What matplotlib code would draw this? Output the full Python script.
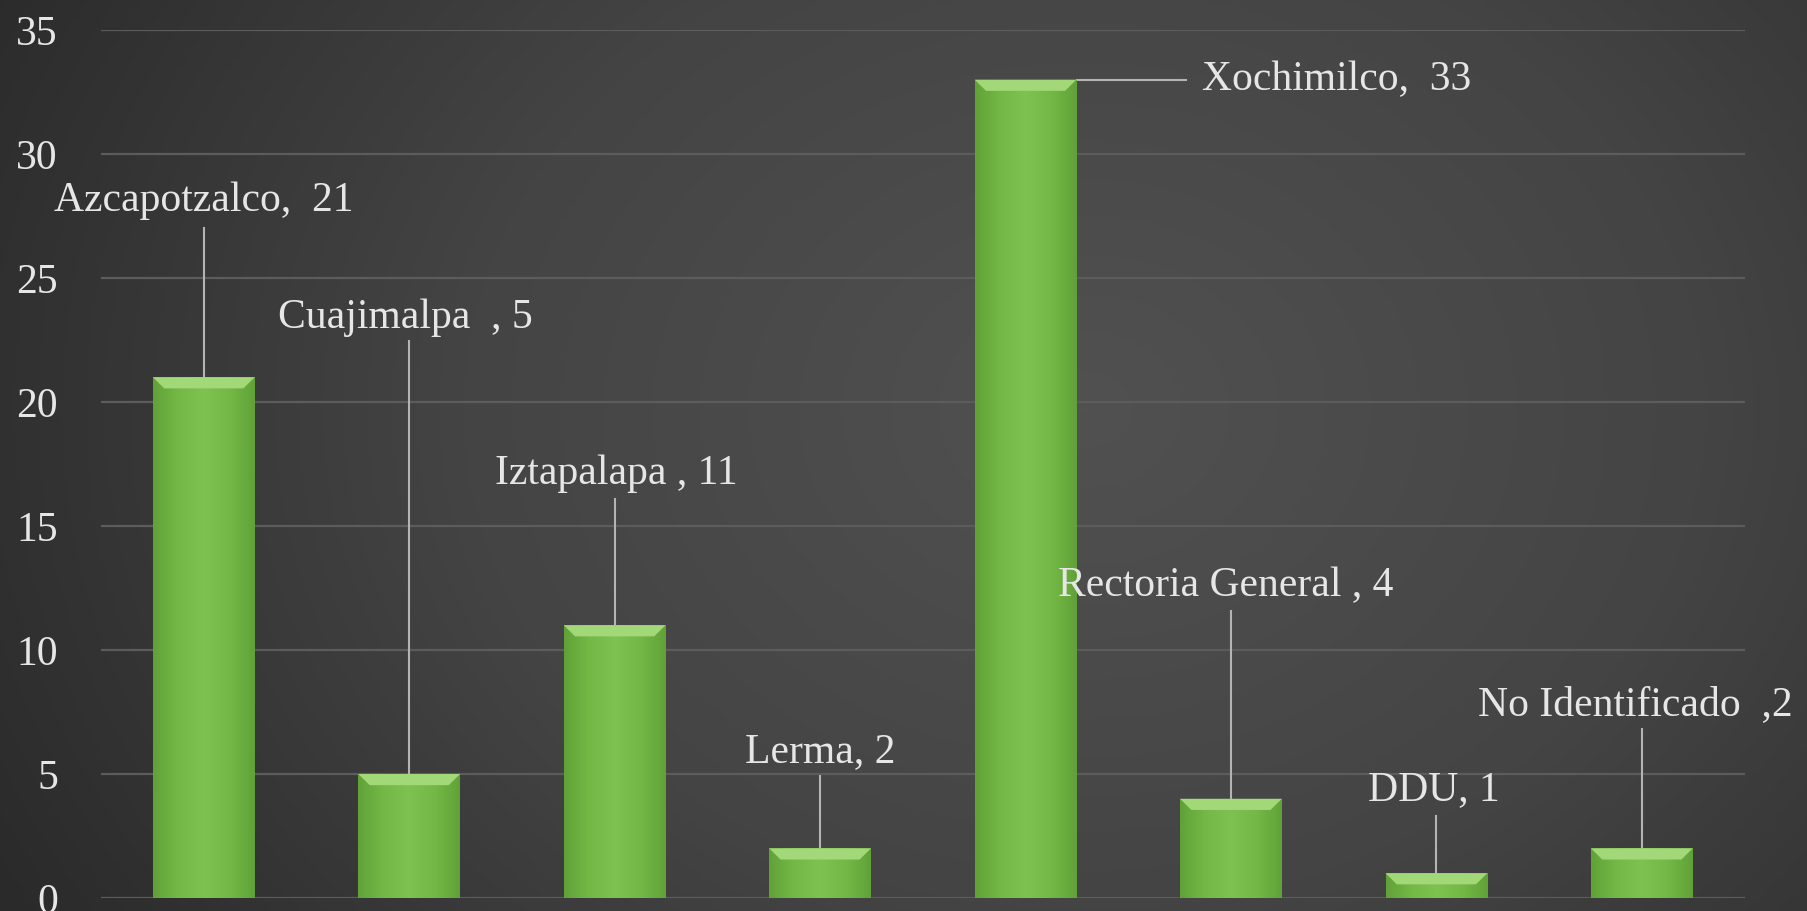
import matplotlib
matplotlib.use('Agg')

import matplotlib.pyplot as plt
import numpy as np
from matplotlib.patches import Polygon
from matplotlib.colors import LinearSegmentedColormap

# data
categories = ['Azcapotzalco', 'Cuajimalpa', 'Iztapalapa', 'Lerma',
              'Xochimilco', 'Rectoria General', 'DDU', 'No Identificado']
values = [21, 5, 11, 2, 33, 4, 1, 2]
label_texts = ['Azcapotzalco,  21', 'Cuajimalpa  , 5', 'Iztapalapa , 11',
               'Lerma, 2', 'Xochimilco,  33', 'Rectoria General , 4',
               'DDU, 1', 'No Identificado  ,2']
# where each data label sits (x in category units, y in value units)
label_x = [0.0, 0.98, 2.01, 3.0, 4.86, 4.975, 5.99, 6.97]
label_y = [28.1, 23.4, 17.1, 5.9, 33.0, 12.6, 4.35, 7.8]
leader_top = [27.0, 22.45, 16.1, 4.9, None, 11.57, 3.3, 6.8]
yticks = [0, 5, 10, 15, 20, 25, 30, 35]

FONT = 'Liberation Serif'
TEXT_COLOR = '#e6e6e6'
FS = 30

fig = plt.figure(figsize=(18.08, 9.11), dpi=100)

# dark radial background
bg = fig.add_axes([0, 0, 1, 1], zorder=-10)
yy, xx = np.mgrid[0:1:300j, 0:1:600j]
r = np.sqrt(((xx - 0.6) * 1.6) ** 2 + (yy - 0.45) ** 2)
bg_cmap = LinearSegmentedColormap.from_list('bg', ['#515151', '#444444', '#2a2a2a'])
bg.imshow(r, cmap=bg_cmap, aspect='auto', extent=(0, 1, 0, 1), vmin=0, vmax=1.1,
          origin='upper')
bg.axis('off')

ax = fig.add_axes([0.0559, 0.0143, 0.909, 0.9527])
ax.patch.set_alpha(0)

for y in yticks:
    ax.axhline(y, color='#5c5c5c', lw=1.6, zorder=0)

x = np.arange(len(categories))
bars = ax.bar(x, values, width=0.495, color='#6fb442', zorder=2)

# horizontal shading inside each bar, plus a light bevel at the top
shade = LinearSegmentedColormap.from_list(
    'shade', ['#61a238', '#74b947', '#7ec351', '#74b947', '#61a238'])
grad = np.linspace(0, 1, 100).reshape(1, -1)
dx, dy = 0.055, 0.45
for b in bars:
    x0, w, h = b.get_x(), b.get_width(), b.get_height()
    im = ax.imshow(grad, cmap=shade, aspect='auto', extent=(x0, x0 + w, 0, h),
                   zorder=2.1)
    im.set_clip_path(b)
    bevel = Polygon([(x0, h), (x0 + w, h), (x0 + w - dx, h - dy), (x0 + dx, h - dy)],
                    closed=True, facecolor='#a3d879', edgecolor='none', zorder=2.2)
    ax.add_patch(bevel)
ax.set_xlim(-0.5, len(categories) - 0.5)
ax.set_ylim(0, 35)

# data labels with leader lines
for i, (txt, lx, ly) in enumerate(zip(label_texts, label_x, label_y)):
    if leader_top[i] is None:
        ax.plot([i + 0.25, lx - 0.08], [values[i], values[i]], color='#b4b4b4',
                lw=1.5, zorder=1.5)
        ax.text(lx, ly, txt, ha='left', va='center', fontsize=FS, family=FONT,
                color=TEXT_COLOR, zorder=5)
    else:
        ax.plot([i, i], [values[i], leader_top[i]], color='#b4b4b4', lw=1.5,
                zorder=1.5)
        ax.text(lx, ly, txt, ha='center', va='center', fontsize=FS, family=FONT,
                color=TEXT_COLOR, zorder=5)

ax.set_yticks(yticks)
ax.set_yticklabels([str(v) for v in yticks], fontsize=FS, family=FONT,
                   color=TEXT_COLOR)
ax.tick_params(axis='y', length=0, pad=31)
ax.set_xticks([])
for s in ax.spines.values():
    s.set_visible(False)

fig.savefig('out.png', dpi=100)
plt.close(fig)
